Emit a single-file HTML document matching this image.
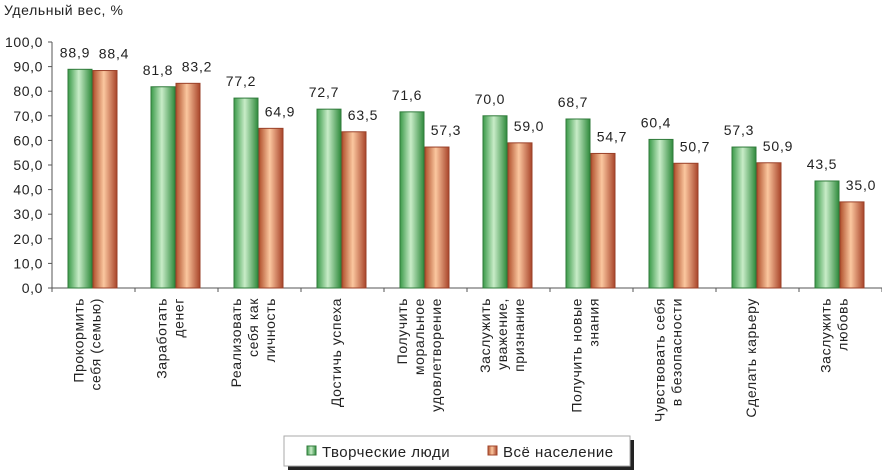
<!DOCTYPE html>
<html><head><meta charset="utf-8"><style>
body{margin:0;background:#fff;}
svg{display:block;font-family:"Liberation Sans","DejaVu Sans",sans-serif;}
</style></head><body>
<svg id="c" width="882" height="472">
<defs>
<linearGradient id="gg" x1="0" x2="1"><stop offset="0" stop-color="#3a9a48"/><stop offset="0.45" stop-color="#c8ecc8"/><stop offset="1" stop-color="#2f8a3c"/></linearGradient>
<linearGradient id="gr" x1="0" x2="1"><stop offset="0" stop-color="#b0502c"/><stop offset="0.45" stop-color="#fbc79f"/><stop offset="1" stop-color="#a8442a"/></linearGradient>
</defs>
<text x="4" y="15" font-size="14" letter-spacing="0.6" fill="#222">Удельный вес, %</text>
<g id="ax"></g><g id="bars"></g>
<g>
<rect x="288" y="440" width="346" height="30" fill="#222"/>
<rect x="284" y="436" width="346" height="30" fill="#fff" stroke="#aaa"/>
<rect x="307" y="446" width="9" height="9" fill="url(#gg)" stroke="#2f7a3a"/>
<text x="322" y="457" font-size="15" letter-spacing="0.5" fill="#222">Творческие люди</text>
<rect x="488" y="446" width="9" height="9" fill="url(#gr)" stroke="#a0442a"/>
<text x="503" y="457" font-size="15" letter-spacing="0.5" fill="#222">Всё население</text>
</g>
</svg>
<script>
const categories=[["Прокормить","себя (семью)"],["Заработать","денег"],["Реализовать","себя как","личность"],["Достичь успеха"],["Получить","моральное","удовлетворение"],["Заслужить","уважение,","признание"],["Получить новые","знания"],["Чувствовать себя","в безопасности"],["Сделать карьеру"],["Заслужить","любовь"]];
const creative=[88.9,81.8,77.2,72.7,71.6,70.0,68.7,60.4,57.3,43.5];
const population=[88.4,83.2,64.9,63.5,57.3,59.0,54.7,50.7,50.9,35.0];
const ticks=[0,10,20,30,40,50,60,70,80,90,100];
const NS="http://www.w3.org/2000/svg";
const y0=288,pxu=2.46,axX=52,band=83;
const y=v=>y0-v*pxu;
const cx=i=>93+band*i;
const fmt=v=>v.toFixed(1).replace('.',',');
function mk(t,a,p){const e=document.createElementNS(NS,t);for(const k in a)e.setAttribute(k,a[k]);p.appendChild(e);return e;}
const ax=document.getElementById('ax'),bars=document.getElementById('bars');
let l=mk('line',{x1:axX,x2:axX,y1:y(100),y2:y0,stroke:'#555'},ax);


l=mk('line',{x1:axX,x2:axX+band*10,y1:y0,y2:y0,stroke:'#555'},ax);


ticks.forEach(t=>{
 mk('line',{x1:axX-4,x2:axX,y1:y(t),y2:y(t),stroke:'#555'},ax);
 const tx=mk('text',{x:axX-9,y:y(t)+5,'font-size':14,'letter-spacing':0.6,'text-anchor':'end',fill:'#222'},ax);
 tx.textContent=fmt(t);
 
 
});
for(let i=0;i<=10;i++)mk('line',{x1:axX+band*i,x2:axX+band*i,y1:y0,y2:y0+4,stroke:'#555'},ax);
categories.forEach((c,i)=>{
 const x=cx(i);
 [[creative[i],x-25,'url(#gg)','#2f7a3a','bar-creative',-5],[population[i],x,'url(#gr)','#9a4028','bar-population',9]].forEach(([v,bx,f,s,n,dx])=>{
  const r=mk('rect',{x:bx,y:y(v),width:24,height:y0-y(v),fill:f,stroke:s,'stroke-width':1},bars);
  
  
  const t=mk('text',{x:bx+12+dx,y:y(v)-12,'font-size':14,'letter-spacing':0.8,'text-anchor':'middle',fill:'#222'},bars);
  t.textContent=fmt(v);
  
  
 });
 const g=mk('g',{},bars);
 
 
 const n=c.length,lh=17;
 c.forEach((line,j)=>{
  const lx=x-6+(j-(n-1)/2)*lh+5;
  const t=mk('text',{x:lx,y:298,'font-size':14,'letter-spacing':0.6,'text-anchor':'end',fill:'#222',transform:`rotate(-90 ${lx} 298)`},g);
  t.textContent=line;
 });
});
</script>
</body></html>
